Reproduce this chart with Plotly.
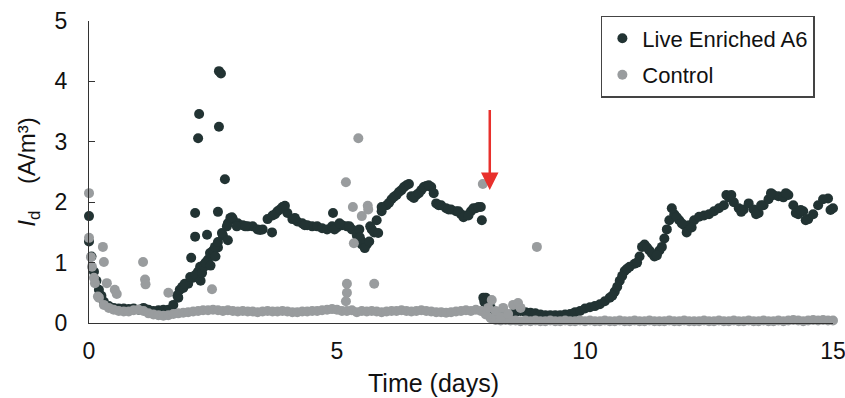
import plotly.graph_objects as go

# ---------------- data ----------------
# regular sampling grid, days
grid_t = [round(i * 0.1, 1) for i in range(151)]

live_v = [
    1.35, 0.85, 0.55, 0.35, 0.28, 0.25, 0.24, 0.24, 0.23, 0.24,   # 0.0-0.9
    0.22, 0.25, 0.22, 0.20, 0.21, 0.22, 0.22, 0.30, 0.42, 0.58,   # 1.0-1.9
    0.65, 0.75, 0.85, 0.95, 1.05, 1.15, 1.25, 1.45, 1.65, 1.72,   # 2.0-2.9
    1.65, 1.62, 1.60, 1.60, 1.55, 1.55, 1.72, 1.78, 1.85, 1.92,   # 3.0-3.9
    1.82, 1.72, 1.68, 1.65, 1.62, 1.60, 1.60, 1.57, 1.55, 1.60,   # 4.0-4.9
    1.58, 1.62, 1.60, 1.55, 1.45, 1.35, 1.30, 1.55, 1.70, 1.85,   # 5.0-5.9
    1.95, 2.05, 2.12, 2.20, 2.28, 2.10, 2.12, 2.20, 2.27, 2.25,   # 6.0-6.9
    1.98, 1.95, 1.90, 1.88, 1.85, 1.80, 1.78, 1.85, 1.90, 1.92,   # 7.0-7.9
    0.42, 0.25, 0.15, 0.12, 0.10, 0.14, 0.18, 0.20, 0.18, 0.17,   # 8.0-8.9
    0.16, 0.14, 0.13, 0.13, 0.13, 0.13, 0.14, 0.15, 0.18, 0.20,   # 9.0-9.9
    0.24, 0.26, 0.28, 0.31, 0.36, 0.42, 0.52, 0.70, 0.86, 0.93,   # 10.0-10.9
    0.98, 1.10, 1.30, 1.20, 1.10, 1.20, 1.40, 1.70, 1.80, 1.70,   # 11.0-11.9
    1.62, 1.62, 1.70, 1.76, 1.78, 1.80, 1.85, 1.90, 1.95, 2.08,   # 12.0-12.9
    2.00, 1.90, 1.88, 1.98, 1.88, 1.82, 1.95, 2.05, 2.12, 2.10,   # 13.0-13.9
    2.08, 2.12, 1.95, 1.80, 1.85, 1.72, 1.80, 1.95, 2.05, 2.06,   # 14.0-14.9
    1.90,                                                         # 15.0
]

live_extra_t = [
    0.00, 0.05, 0.15, 0.25,
    1.78, 1.83, 1.88, 1.93, 2.04, 2.06, 2.14, 2.14, 2.20, 2.22, 2.15, 2.24, 2.25,
    2.28, 2.32, 2.35, 2.38, 2.44, 2.45, 2.50, 2.54, 2.55, 2.60, 2.60, 2.62, 2.62,
    2.66, 2.68, 2.74, 2.78, 2.80, 2.85, 2.88, 2.98,
    3.15, 3.45, 3.69, 3.75, 3.85, 3.95, 4.15, 4.35, 4.92, 4.95, 5.05, 5.25,
    5.45, 5.46, 5.50, 5.56, 5.65, 5.67, 5.75, 5.83, 5.90,
    6.05, 6.15, 6.25, 6.35, 6.45, 6.55, 6.65, 6.75, 6.85, 6.95,
    7.05, 7.25, 7.45, 7.55, 7.65, 7.75, 7.85, 7.92, 7.95, 7.97, 8.05,
    10.55, 10.65, 10.75, 10.85, 11.05, 11.15, 11.25, 11.35, 11.45, 11.55,
    11.65, 11.75, 11.85, 11.95,
    12.05, 12.15, 12.85, 12.95, 13.15, 13.45, 13.55, 13.75, 14.05, 14.25,
    14.35, 14.45, 14.95,
]
live_extra_v = [
    1.77, 1.10, 0.70, 0.45,
    0.46, 0.55, 0.60, 0.65, 0.76, 1.08, 1.43, 1.82, 3.06, 3.46, 0.80, 0.93, 0.70,
    0.83, 0.93, 1.00, 1.46, 1.16, 0.95, 1.20, 1.26, 1.10, 1.34, 1.84, 3.25, 4.17,
    4.13, 1.49, 2.38, 1.60, 1.37, 1.74, 1.75, 1.60,
    1.60, 1.54, 1.50, 1.80, 1.88, 1.94, 1.74, 1.62, 1.82, 1.55, 1.65, 1.60,
    1.55, 1.42, 1.30, 1.24, 1.35, 1.60, 1.50, 1.49, 1.92,
    1.99, 2.09, 2.17, 2.25, 2.30, 2.07, 2.15, 2.25, 2.28, 2.15,
    1.95, 1.88, 1.85, 1.75, 1.78, 1.90, 1.92, 1.70, 0.42, 0.35, 0.30,
    0.45, 0.60, 0.78, 0.90, 1.00, 1.26, 1.25, 1.15, 1.12, 1.26,
    1.55, 1.90, 1.75, 1.65,
    1.50, 1.58, 2.12, 2.12, 1.84, 1.80, 1.95, 2.15, 2.15, 1.82,
    1.87, 1.70, 1.87,
]

ctrl_v = [
    1.41, 0.75, 0.42, 0.30, 0.25, 0.22, 0.20, 0.19, 0.19, 0.21,   # 0.0-0.9
    0.22, 0.20, 0.16, 0.14, 0.13, 0.12, 0.13, 0.15, 0.16, 0.17,   # 1.0-1.9
    0.18, 0.19, 0.20, 0.21, 0.21, 0.22, 0.21, 0.20, 0.21, 0.20,   # 2.0-2.9
    0.19, 0.20, 0.19, 0.19, 0.18, 0.19, 0.20, 0.19, 0.19, 0.20,   # 3.0-3.9
    0.19, 0.18, 0.18, 0.19, 0.19, 0.20, 0.20, 0.21, 0.22, 0.23,   # 4.0-4.9
    0.22, 0.20, 0.20, 0.21, 0.18, 0.20, 0.19, 0.20, 0.19, 0.18,   # 5.0-5.9
    0.19, 0.20, 0.20, 0.21, 0.20, 0.19, 0.20, 0.21, 0.20, 0.19,   # 6.0-6.9
    0.18, 0.18, 0.17, 0.18, 0.19, 0.20, 0.21, 0.20, 0.22, 0.20,   # 7.0-7.9
    0.14, 0.08, 0.05, 0.04, 0.05, 0.04, 0.04, 0.03, 0.04, 0.03,   # 8.0-8.9
    0.04, 0.03, 0.03, 0.04, 0.03, 0.03, 0.04, 0.03, 0.03, 0.04,   # 9.0-9.9
    0.03, 0.04, 0.03, 0.03, 0.04, 0.03, 0.03, 0.04, 0.03, 0.03,   # 10.0-10.9
    0.04, 0.03, 0.03, 0.04, 0.03, 0.03, 0.03, 0.04, 0.03, 0.03,   # 11.0-11.9
    0.04, 0.03, 0.03, 0.03, 0.04, 0.03, 0.03, 0.04, 0.03, 0.03,   # 12.0-12.9
    0.04, 0.03, 0.03, 0.04, 0.03, 0.03, 0.04, 0.03, 0.03, 0.04,   # 13.0-13.9
    0.03, 0.04, 0.05, 0.04, 0.03, 0.04, 0.05, 0.04, 0.05, 0.04,   # 14.0-14.9
    0.04,                                                         # 15.0
]

ctrl_extra_t = [
    0.00, 0.04, 0.06, 0.12, 0.18, 0.28, 0.30, 0.36, 0.52, 0.56,
    1.09, 1.13, 1.14, 1.60, 2.48,
    5.18, 5.18, 5.20, 5.20, 5.32, 5.34, 5.43, 5.50, 5.62, 5.63, 5.75,
    7.94, 8.05, 8.12, 8.20, 8.30, 8.35, 8.45, 8.55, 8.65, 8.70, 9.03,
]
ctrl_extra_v = [
    2.15, 1.09, 0.93, 0.66, 0.44, 1.26, 1.01, 0.66, 0.55, 0.48,
    1.01, 0.72, 0.64, 0.50, 0.56,
    2.33, 0.36, 0.65, 0.50, 1.92, 1.32, 3.06, 1.77, 1.94, 1.88, 0.65,
    2.30, 0.25, 0.38, 0.20, 0.10, 0.25, 0.15, 0.30, 0.33, 0.25, 1.26,
]

series_names = ["Live Enriched A6", "Control"]
x_ticks = [0, 5, 10, 15]
y_ticks = [0, 1, 2, 3, 4, 5]

# red arrow marking the event (days, A/m3)
arrow_day = 8.08
arrow_tip = 2.2
arrow_tail = 3.55

# ---------------- styles ----------------
DARK = "#223333"
GREY = "#999c9e"
RED = "#e8302c"
FONT = "Liberation Sans, Arial, sans-serif"

fig = go.Figure()
fig.add_trace(go.Scatter(
    x=grid_t + live_extra_t, y=live_v + live_extra_v,
    mode="markers", name=series_names[0], legendgroup="a",
    marker=dict(color=DARK, size=10, line=dict(width=0)),
    cliponaxis=False,
))
fig.add_trace(go.Scatter(
    x=grid_t + ctrl_extra_t, y=ctrl_v + ctrl_extra_v,
    mode="markers", name=series_names[1], legendgroup="b",
    marker=dict(color=GREY, size=10, line=dict(width=0)),
    cliponaxis=False,
))

fig.add_annotation(
    x=arrow_day, y=arrow_tip, ax=arrow_day, ay=arrow_tail,
    xref="x", yref="y", axref="x", ayref="y",
    text="", showarrow=True, arrowhead=2, arrowsize=1.4,
    arrowwidth=2.5, arrowcolor=RED,
)

fig.add_annotation(
    text="Time (days)", xref="paper", yref="paper",
    x=0.463, y=-0.199, xanchor="center", yanchor="middle",
    showarrow=False, font=dict(family=FONT, size=25, color="#111111"),
)

fig.update_layout(
    width=845, height=398,
    margin=dict(l=89, r=12, t=21, b=75),
    paper_bgcolor="white", plot_bgcolor="white",
    font=dict(family=FONT, size=23, color="#111111"),
    showlegend=True,
    legend=dict(
        x=0.688, y=1.017, xanchor="left", yanchor="top",
        bgcolor="white", bordercolor="#444444", borderwidth=1.5,
        font=dict(family=FONT, size=22, color="#111111"),
        itemwidth=30, traceorder="grouped", tracegroupgap=5,
    ),
    xaxis=dict(
        range=[0, 15], tickvals=x_ticks, ticks="", showgrid=False,
        zeroline=False, showline=True, linecolor="#333333", linewidth=1,
        ticklabelstandoff=7, tickfont=dict(size=23),
        ticklabeloverflow="allow", automargin=False,
    ),
    yaxis=dict(
        range=[0, 5], tickvals=y_ticks, ticks="inside", ticklen=6,
        tickcolor="#333333", showgrid=False, zeroline=False,
        showline=True, linecolor="#333333", linewidth=1,
        ticklabelstandoff=16, tickfont=dict(size=23),
        automargin=False,
        title=dict(text="<i>I</i><sub>d</sub>    (A/m³)", font=dict(size=24),
                   standoff=12),
    ),
)

fig.write_html("out.html")
